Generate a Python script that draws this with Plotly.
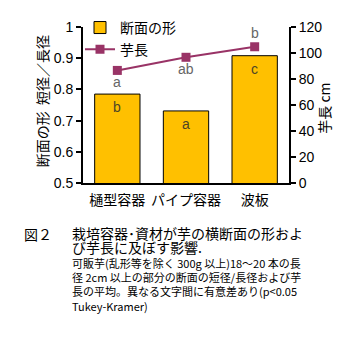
import plotly.graph_objects as go

# Cultivation method categories
categories = ["樋型容器", "パイプ容器", "波板"]
# Cross-section shape (short diameter / long diameter)
shape_ratio = [0.785, 0.731, 0.908]
shape_letters = ["b", "a", "c"]
# Tuber length (cm)
tuber_length = [86.6, 96.7, 104.8]
length_letters = ["a", "ab", "b"]

y_ticks = [0.5, 0.6, 0.7, 0.8, 0.9, 1.0]
y_tick_text = ["0.5", "0.6", "0.7", "0.8", "0.9", "1"]
y2_ticks = [0, 20, 40, 60, 80, 100, 120]

figure_number = "図２"
caption_title = ["栽培容器･資材が芋の横断面の形およ", "び芋長に及ぼす影響."]
caption_notes = [
    "可販芋(乱形等を除く 300g 以上)18～20 本の長",
    "径 2cm 以上の部分の断面の短径/長径および芋",
    "長の平均。異なる文字間に有意差あり(p<0.05",
    "Tukey-Kramer)",
]

FONT = "Noto Sans CJK JP"
W, H = 349, 340
L, R, T, B = 83, 60, 17, 157
PW, PH = W - L - R, H - T - B


def px(x):
    return (x - L) / PW


def py(y):
    return (H - B - y) / PH


fig = go.Figure()
fig.add_trace(go.Bar(
    x=categories, y=shape_ratio, base=0, name="断面の形", legend="legend",
    marker=dict(color="#FFC000", line=dict(color="black", width=1)),
    width=0.66,
))
fig.add_trace(go.Scatter(
    x=categories, y=tuber_length, name="芋長", yaxis="y2", legend="legend2",
    mode="lines+markers",
    line=dict(color="#993366", width=2),
    marker=dict(symbol="square", size=9, color="#993366"),
))

annotations = []
for c, v, t in zip(categories, shape_ratio, shape_letters):
    annotations.append(dict(x=c, y=v, xref="x", yref="y", text=t, showarrow=False,
                            yshift=-13, font=dict(size=14, color="#4D4526", family="Arial")))
for c, v, t, s in zip(categories, tuber_length, length_letters, [-12, -12, 14]):
    annotations.append(dict(x=c, y=v, xref="x", yref="y2", text=t, showarrow=False,
                            yshift=s, font=dict(size=14, color="#666666", family="Arial")))

# axis titles
annotations.append(dict(x=px(42), y=py(96), xref="paper", yref="paper",
                        xanchor="center", yanchor="middle",
                        text="断面の形  短径／長径", textangle=-90, showarrow=False,
                        font=dict(size=14, family=FONT, color="black")))
annotations.append(dict(x=px(324), y=py(104), xref="paper", yref="paper",
                        xanchor="center", yanchor="middle",
                        text="芋長 cm", textangle=-90, showarrow=False,
                        font=dict(size=14, family=FONT, color="black")))

# caption
annotations.append(dict(x=px(22), y=py(237), xref="paper", yref="paper",
                        text=figure_number, showarrow=False,
                        xanchor="left", yanchor="middle",
                        font=dict(size=14, color="black", family=FONT)))
caption_lines = ['<span style="font-size:14px">%s</span>' % s for s in caption_title] + caption_notes
annotations.append(dict(x=px(70), y=py(223), xref="paper", yref="paper",
                        text="<br>".join(caption_lines), align="left",
                        showarrow=False, xanchor="left", yanchor="top",
                        font=dict(size=11, color="black", family=FONT)))

legend_style = dict(xanchor="left", yanchor="middle", bgcolor="rgba(0,0,0,0)",
                    font=dict(size=14, family=FONT, color="black"),
                    itemwidth=30, borderwidth=0)

fig.update_layout(
    width=W, height=H,
    margin=dict(l=L, r=R, t=T, b=B),
    paper_bgcolor="white", plot_bgcolor="white",
    font=dict(family=FONT, size=14, color="black"),
    showlegend=True,
    legend=dict(x=px(80), y=py(18), **legend_style),
    legend2=dict(x=px(80), y=py(41), **legend_style),
    xaxis=dict(
        showline=True, linecolor="black", linewidth=2,
        ticks="", tickfont=dict(size=14, family=FONT),
        ticklabelstandoff=3,
        range=[-0.5, 2.5],
    ),
    yaxis=dict(
        range=[0.5, 1.0], tickvals=y_ticks, ticktext=y_tick_text,
        showline=True, linecolor="black", linewidth=2,
        ticks="outside", ticklen=5, tickwidth=2, tickcolor="black",
        showgrid=False, zeroline=False,
        tickfont=dict(size=14, family="Arial"),
    ),
    yaxis2=dict(
        range=[0, 120], tickvals=y2_ticks, overlaying="y", side="right",
        showline=True, linecolor="black", linewidth=2,
        ticks="outside", ticklen=5, tickwidth=2, tickcolor="black",
        showgrid=False, zeroline=False,
        tickfont=dict(size=14, family="Arial"),
    ),
    annotations=annotations,
)

fig.write_html("out.html")
